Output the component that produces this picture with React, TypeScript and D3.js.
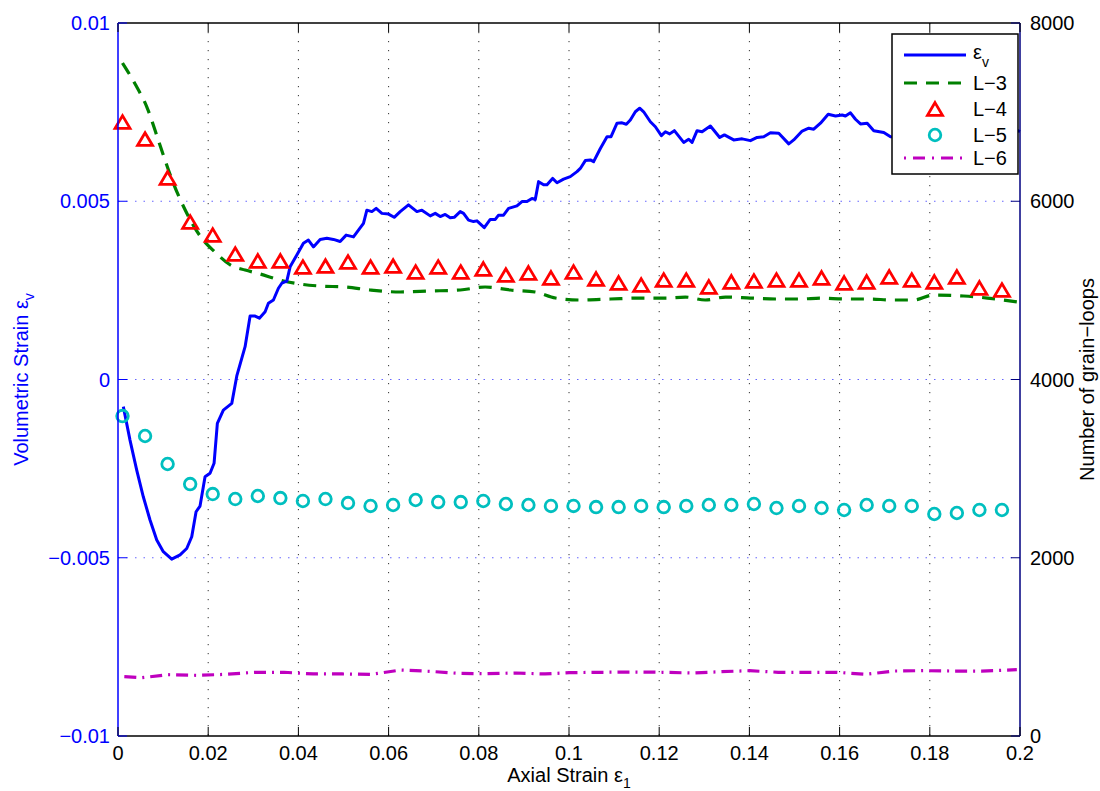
import React from "react";
import * as d3 from "d3";

// ---------- data ----------
const X_TICKS = [0, 0.02, 0.04, 0.06, 0.08, 0.1, 0.12, 0.14, 0.16, 0.18, 0.2];
const X_TICK_LABELS = ["0", "0.02", "0.04", "0.06", "0.08", "0.1", "0.12", "0.14", "0.16", "0.18", "0.2"];
const YL_TICKS = [-0.01, -0.005, 0, 0.005, 0.01];
const YL_TICK_LABELS = ["\u22120.01", "\u22120.005", "0", "0.005", "0.01"];
const YR_TICKS = [0, 2000, 4000, 6000, 8000];
const YR_TICK_LABELS = ["0", "2000", "4000", "6000", "8000"];

// volumetric strain (left axis)
const EV_X = [0.00118, 0.00266, 0.00415, 0.00561, 0.0071, 0.00859, 0.01005, 0.01191, 0.01376, 0.01524, 0.01635, 0.01731, 0.01819, 0.0193, 0.02041, 0.0213, 0.02203, 0.02336, 0.02523, 0.02634, 0.02818, 0.02929, 0.0304, 0.03135, 0.03262, 0.03335, 0.03446, 0.03557, 0.03632, 0.03743, 0.03816, 0.03965, 0.04111, 0.04222, 0.04333, 0.04482, 0.04631, 0.04777, 0.04926, 0.05059, 0.05221, 0.05332, 0.05443, 0.05518, 0.05629, 0.05724, 0.05851, 0.05997, 0.06124, 0.06257, 0.06441, 0.06628, 0.06738, 0.06923, 0.07034, 0.07145, 0.07255, 0.07366, 0.07455, 0.07588, 0.07662, 0.07772, 0.07883, 0.07959, 0.08121, 0.08254, 0.08365, 0.08438, 0.08549, 0.0866, 0.08846, 0.08957, 0.09068, 0.09179, 0.09252, 0.09326, 0.09437, 0.09512, 0.09636, 0.09734, 0.0988, 0.10029, 0.10177, 0.10251, 0.10362, 0.10473, 0.10546, 0.10695, 0.10843, 0.10932, 0.11065, 0.11176, 0.11271, 0.1136, 0.11471, 0.11567, 0.11655, 0.11804, 0.11915, 0.12048, 0.12137, 0.12232, 0.12336, 0.12543, 0.12654, 0.12729, 0.1284, 0.12951, 0.13135, 0.13342, 0.13446, 0.13652, 0.13839, 0.14023, 0.14171, 0.14318, 0.14466, 0.14651, 0.14873, 0.14983, 0.1517, 0.15316, 0.15427, 0.15576, 0.15747, 0.15909, 0.16057, 0.1613, 0.16241, 0.16352, 0.16463, 0.16612, 0.16758, 0.1698, 0.17129, 0.1779, 0.1846, 0.1924, 0.19858, 0.2];
const EV_Y = [-0.00076, -0.0017, -0.00254, -0.00329, -0.00394, -0.0045, -0.00483, -0.00504, -0.00492, -0.00474, -0.00441, -0.00371, -0.00355, -0.00273, -0.00263, -0.00235, -0.00123, -0.00086, -0.00067, 0.0001, 0.00092, 0.00178, 0.00178, 0.00172, 0.0019, 0.00214, 0.00223, 0.00256, 0.0027, 0.00276, 0.00316, 0.00349, 0.00382, 0.00391, 0.00372, 0.00393, 0.00396, 0.00393, 0.00387, 0.00405, 0.004, 0.00419, 0.00438, 0.00475, 0.00471, 0.0048, 0.00466, 0.00464, 0.00455, 0.00471, 0.0049, 0.00471, 0.00475, 0.00459, 0.00466, 0.00457, 0.00463, 0.00454, 0.00455, 0.00471, 0.00466, 0.00447, 0.00443, 0.00445, 0.00426, 0.00449, 0.00449, 0.00461, 0.00461, 0.0048, 0.00487, 0.00499, 0.00499, 0.00508, 0.00505, 0.00555, 0.00546, 0.00546, 0.00564, 0.00552, 0.00562, 0.00569, 0.00583, 0.00592, 0.00614, 0.00616, 0.00611, 0.00648, 0.00681, 0.00681, 0.00719, 0.0072, 0.00716, 0.00728, 0.00751, 0.00761, 0.00751, 0.00723, 0.00709, 0.00684, 0.00695, 0.00689, 0.00698, 0.00665, 0.00674, 0.00665, 0.00698, 0.00695, 0.00711, 0.00679, 0.00686, 0.00672, 0.00675, 0.0067, 0.00679, 0.00681, 0.00692, 0.00691, 0.00661, 0.00672, 0.00697, 0.00705, 0.00702, 0.00719, 0.00744, 0.00739, 0.00742, 0.00739, 0.00748, 0.0073, 0.00717, 0.00719, 0.00698, 0.00693, 0.00681, 0.0068, 0.0069, 0.007, 0.00703, 0.00695];

// L-3 (right axis, number of grain-loops)
const L3_X = [0.001, 0.0038, 0.0064, 0.0093, 0.012, 0.0149, 0.0182, 0.0215, 0.0249, 0.0282, 0.0315, 0.0359, 0.0404, 0.0448, 0.0504, 0.0559, 0.0626, 0.0692, 0.0759, 0.0814, 0.087, 0.0925, 0.097, 0.1025, 0.1092, 0.1158, 0.1214, 0.1258, 0.1302, 0.1347, 0.1402, 0.1458, 0.1513, 0.1558, 0.1613, 0.1669, 0.1713, 0.1764, 0.1808, 0.1875, 0.1928, 0.1995];
const L3_Y = [7551, 7315, 7057, 6631, 6238, 5902, 5610, 5430, 5285, 5228, 5184, 5116, 5071, 5049, 5038, 5004, 4982, 4993, 5004, 5038, 5004, 4982, 4914, 4892, 4903, 4914, 4914, 4925, 4892, 4925, 4914, 4903, 4903, 4914, 4903, 4903, 4892, 4892, 4948, 4937, 4914, 4869];

// markers for L-4 and L-5
const MARK_X = [0.001, 0.006, 0.011, 0.016, 0.021, 0.026, 0.031, 0.036, 0.041, 0.046, 0.051, 0.056, 0.061, 0.066, 0.071, 0.076, 0.081, 0.086, 0.091, 0.096, 0.101, 0.106, 0.111, 0.116, 0.121, 0.126, 0.131, 0.136, 0.141, 0.146, 0.151, 0.156, 0.161, 0.166, 0.171, 0.176, 0.181, 0.186, 0.191, 0.196];
const L4_Y = [6889, 6698, 6261, 5767, 5621, 5408, 5330, 5330, 5262, 5273, 5318, 5262, 5273, 5206, 5262, 5206, 5240, 5172, 5195, 5139, 5206, 5128, 5083, 5060, 5116, 5116, 5038, 5094, 5105, 5116, 5116, 5139, 5083, 5094, 5150, 5116, 5094, 5150, 5027, 5004];
const L5_Y = [3590, 3366, 3052, 2827, 2715, 2659, 2693, 2670, 2637, 2659, 2614, 2581, 2592, 2648, 2625, 2625, 2637, 2603, 2592, 2581, 2581, 2569, 2569, 2581, 2569, 2581, 2592, 2592, 2603, 2558, 2581, 2558, 2536, 2592, 2581, 2581, 2491, 2502, 2536, 2536];

// L-6
const L6_X = [0.0014, 0.0053, 0.0111, 0.0175, 0.024, 0.0304, 0.0368, 0.0433, 0.0497, 0.0561, 0.0601, 0.0626, 0.069, 0.0754, 0.0819, 0.0883, 0.0947, 0.1001, 0.1076, 0.1143, 0.1207, 0.1271, 0.1336, 0.14, 0.1464, 0.1529, 0.1593, 0.1657, 0.1722, 0.1786, 0.185, 0.1915, 0.1993];
const L6_Y = [666, 654, 688, 681, 692, 715, 715, 696, 696, 692, 721, 740, 726, 703, 699, 707, 696, 711, 715, 718, 715, 707, 721, 733, 715, 715, 715, 692, 729, 733, 729, 729, 744];

const LEGEND_LABELS = ["L\u22123", "L\u22124", "L\u22125", "L\u22126"];

// ---------- layout ----------
const W = 1100, H = 791;
const PL = 118, PR = 1020, PT = 23, PB = 736;
const FONT = "'Liberation Sans', Arial, Helvetica, sans-serif";
const FS = 20;
const BLUE = "#0000ff";
const NAVY = "#000080";
const GREEN = "#008000";
const RED = "#ff0000";
const CYAN = "#00bfbf";
const MAGENTA = "#bf00bf";
const TICK = 9;
const TRI = 15;
const CR = 5.8;
const MSW = 2.8;

function triPath(cx: number, cy: number, s: number) {
  const h = s * 0.85;
  return `M${cx},${cy - h / 2}L${cx + s / 2},${cy + h / 2}L${cx - s / 2},${cy + h / 2}Z`;
}

export default function App() {
  const x = d3.scaleLinear().domain([0, 0.2]).range([PL, PR]);
  const yL = d3.scaleLinear().domain([-0.01, 0.01]).range([PB, PT]);
  const yR = d3.scaleLinear().domain([0, 8000]).range([PB, PT]);

  const evLine = d3.line<number>().x((_, i) => x(EV_X[i])).y((d) => yL(d))(EV_Y) || "";
  const l3Line = d3.line<number>().x((_, i) => x(L3_X[i])).y((d) => yR(d)).curve(d3.curveMonotoneX)(L3_Y) || "";
  const l6Line = d3.line<number>().x((_, i) => x(L6_X[i])).y((d) => yR(d))(L6_Y) || "";

  const LX0 = 892, LX1 = 1018, LY0 = 34, LY1 = 174;
  const ls0 = 904, ls1 = 966, lm = 935, lt = 973;
  const rows = [55, 83, 109, 135, 158];

  return (
    <svg width={W} height={H} style={{ position: "absolute", left: 0, top: 0, background: "#fff" }} fontFamily={FONT}>
      <rect x={0} y={0} width={W} height={H} fill="#fff" />
      {/* grid */}
      {X_TICKS.slice(1, -1).map((t) => (
        <line key={"gx" + t} x1={x(t)} x2={x(t)} y1={PT} y2={PB} stroke="#000" strokeWidth={1} strokeDasharray="1.2,7.8" opacity={0.8} />
      ))}
      {YL_TICKS.slice(1, -1).map((t) => (
        <line key={"gy" + t} x1={PL} x2={PR} y1={yL(t)} y2={yL(t)} stroke={BLUE} strokeWidth={1} strokeDasharray="1.5,7" opacity={0.6} />
      ))}

      {/* series */}
      <g clipPath="url(#clip)">
        <path d={l6Line} fill="none" stroke={MAGENTA} strokeWidth={3.2} strokeDasharray="12,6,2,6" />
        <path d={l3Line} fill="none" stroke={GREEN} strokeWidth={3.2} strokeDasharray="13,9" />
        <path d={evLine} fill="none" stroke={BLUE} strokeWidth={3} strokeLinejoin="round" />
        {L4_Y.map((v, i) => (
          <path key={"t" + i} d={triPath(x(MARK_X[i]), yR(v), TRI)} fill="none" stroke={RED} strokeWidth={MSW} strokeLinejoin="miter" />
        ))}
        {L5_Y.map((v, i) => (
          <circle key={"c" + i} cx={x(MARK_X[i])} cy={yR(v)} r={CR} fill="none" stroke={CYAN} strokeWidth={MSW} />
        ))}
      </g>
      <defs>
        <clipPath id="clip">
          <rect x={PL - 10} y={PT - 10} width={PR - PL + 20} height={PB - PT + 20} />
        </clipPath>
      </defs>

      {/* axes frame */}
      <line x1={PL} x2={PR} y1={PT} y2={PT} stroke="#000" strokeWidth={1.5} />
      <line x1={PL} x2={PR} y1={PB} y2={PB} stroke="#000" strokeWidth={1.5} />
      <line x1={PL} x2={PL} y1={PT} y2={PB} stroke={BLUE} strokeWidth={1.5} />
      <line x1={PR} x2={PR} y1={PT} y2={PB} stroke={NAVY} strokeWidth={1.5} />

      {/* x ticks */}
      {X_TICKS.map((t, i) => (
        <g key={"xt" + t}>
          <line x1={x(t)} x2={x(t)} y1={PB} y2={PB - TICK} stroke="#000" strokeWidth={1} />
          <line x1={x(t)} x2={x(t)} y1={PT} y2={PT + TICK} stroke="#000" strokeWidth={1} />
          <text x={x(t)} y={PB + 24} fontSize={FS} textAnchor="middle" fill="#000">{X_TICK_LABELS[i]}</text>
        </g>
      ))}
      {/* left ticks */}
      {YL_TICKS.map((t, i) => (
        <g key={"yl" + t}>
          <line x1={PL} x2={PL + TICK} y1={yL(t)} y2={yL(t)} stroke={BLUE} strokeWidth={1} />
          <text x={PL - 8} y={yL(t)} dy="0.35em" fontSize={FS} textAnchor="end" fill={BLUE}>{YL_TICK_LABELS[i]}</text>
        </g>
      ))}
      {/* right ticks */}
      {YR_TICKS.map((t, i) => (
        <g key={"yr" + t}>
          <line x1={PR} x2={PR - TICK} y1={yR(t)} y2={yR(t)} stroke={NAVY} strokeWidth={1} />
          <text x={PR + 10} y={yR(t)} dy="0.35em" fontSize={FS} textAnchor="start" fill="#000">{YR_TICK_LABELS[i]}</text>
        </g>
      ))}

      {/* axis labels */}
      <text x={(PL + PR) / 2} y={782} fontSize={FS} textAnchor="middle" fill="#000">
        Axial Strain ε<tspan fontSize={14} dy={6}>1</tspan>
      </text>
      <text transform={`translate(28,${(PT + PB) / 2}) rotate(-90)`} fontSize={FS} textAnchor="middle" fill={BLUE}>
        Volumetric Strain ε<tspan fontSize={14} dy={6}>v</tspan>
      </text>
      <text transform={`translate(1094,${(PT + PB) / 2}) rotate(-90)`} fontSize={FS} textAnchor="middle" fill="#000">
        Number of grain−loops
      </text>

      {/* legend */}
      <rect x={LX0} y={LY0} width={LX1 - LX0} height={LY1 - LY0} fill="#fff" stroke="#000" strokeWidth={1.5} />
      <line x1={ls0} x2={ls1} y1={rows[0]} y2={rows[0]} stroke={BLUE} strokeWidth={3} />
      <text x={lt} y={rows[0]} dy="0.2em" fontSize={FS} fill="#000">ε<tspan fontSize={14} dy={8}>v</tspan></text>
      <line x1={ls0} x2={ls1} y1={rows[1]} y2={rows[1]} stroke={GREEN} strokeWidth={3.2} strokeDasharray="13,9" />
      <text x={lt} y={rows[1]} dy="0.35em" fontSize={FS} fill="#000">{LEGEND_LABELS[0]}</text>
      <path d={triPath(lm, rows[2], TRI)} fill="none" stroke={RED} strokeWidth={MSW} />
      <text x={lt} y={rows[2]} dy="0.35em" fontSize={FS} fill="#000">{LEGEND_LABELS[1]}</text>
      <circle cx={lm} cy={rows[3]} r={CR} fill="none" stroke={CYAN} strokeWidth={MSW} />
      <text x={lt} y={rows[3]} dy="0.35em" fontSize={FS} fill="#000">{LEGEND_LABELS[2]}</text>
      <line x1={ls0} x2={ls1} y1={rows[4]} y2={rows[4]} stroke={MAGENTA} strokeWidth={3.2} strokeDasharray="2,7,12,7" />
      <text x={lt} y={rows[4]} dy="0.35em" fontSize={FS} fill="#000">{LEGEND_LABELS[3]}</text>
    </svg>
  );
}
